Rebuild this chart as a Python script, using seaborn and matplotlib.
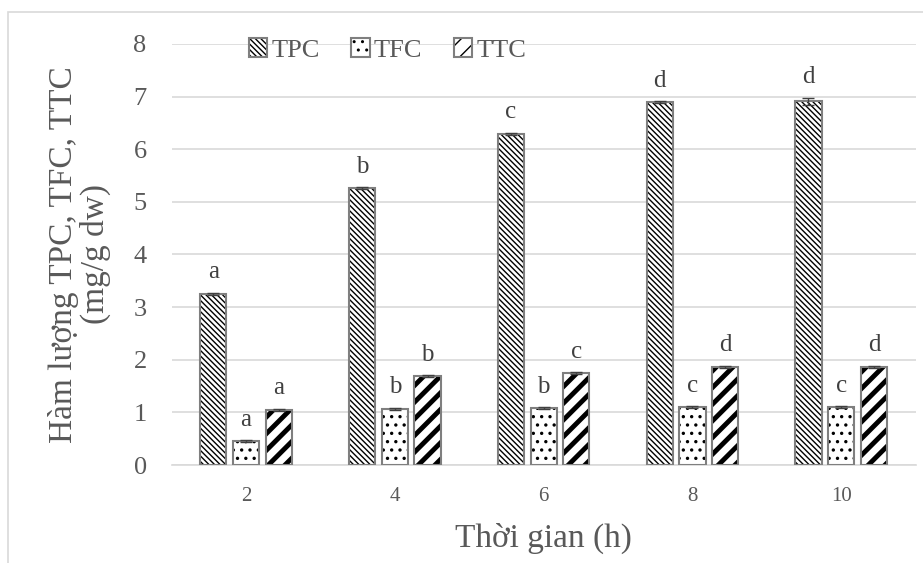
import numpy as np
import pandas as pd
import matplotlib
matplotlib.use("Agg")
import matplotlib.pyplot as plt
import seaborn as sns
from matplotlib.patches import Patch, Rectangle
from matplotlib.legend_handler import HandlerTuple

times = ["2", "4", "6", "8", "10"]
series = ["TPC", "TFC", "TTC"]
tpc = [3.25, 5.26, 6.29, 6.89, 6.91]
tfc = [0.45, 1.07, 1.08, 1.10, 1.10]
ttc = [1.05, 1.69, 1.74, 1.87, 1.87]
tpc_err = [0.02, 0.02, 0.02, 0.02, 0.07]
tfc_err = [0.02, 0.02, 0.02, 0.02, 0.02]
ttc_err = [0.02, 0.02, 0.02, 0.02, 0.02]
tpc_lab = ["a", "b", "c", "d", "d"]
tfc_lab = ["a", "b", "b", "c", "c"]
ttc_lab = ["a", "b", "c", "d", "d"]

values = [tpc, tfc, ttc]
errors = [tpc_err, tfc_err, ttc_err]
labels = [tpc_lab, tfc_lab, ttc_lab]

df = pd.DataFrame({
    "time": times * 3,
    "series": [s for s in series for _ in times],
    "value": tpc + tfc + ttc,
})

sns.set_theme(style="white")
plt.rcParams["font.family"] = ["Liberation Serif", "DejaVu Serif"]
plt.rcParams["hatch.color"] = "black"

TXT = "#595959"
GRID = "#d9d9d9"
EDGE = "#7f7f7f"

fig = plt.figure(figsize=(9.23, 5.63), dpi=100)
ax = fig.add_axes([0.186, 0.174, 0.806, 0.748])

sns.barplot(data=df, x="time", y="value", hue="series", order=times,
            hue_order=series, width=0.66, gap=0.2, errorbar=None,
            palette=["white", "white", "white"], legend=False, ax=ax,
            edgecolor="black", linewidth=0)

hatches = ["\\\\\\\\\\\\", "..", "//"]
hlw = [1.0, 1.2, 3.5]
bar_conts = list(ax.containers)
for i, cont in enumerate(bar_conts):
    for p in cont.patches:
        p.set_hatch(hatches[i])
        try:
            p.set_hatch_linewidth(hlw[i])
        except Exception:
            pass
        p.set_edgecolor("black")
        p.set_linewidth(0)
        p.set_zorder(3)
        ax.add_patch(Rectangle((p.get_x(), p.get_y()), p.get_width(), p.get_height(),
                               fill=False, edgecolor=EDGE, linewidth=1.5, zorder=3.5))
    xs = [p.get_x() + p.get_width() / 2 for p in cont.patches]
    ax.errorbar(xs, values[i], yerr=errors[i], fmt="none", ecolor="#404040",
                elinewidth=1, capsize=4, capthick=1, zorder=4)
    for x, v, e, lab in zip(xs, values[i], errors[i], labels[i]):
        ax.text(x, v + e + 0.18, lab, ha="center", va="bottom",
                fontsize=18, color="#404040")

ax.set_ylim(0, 8)
ax.set_xlim(-0.5, 4.5)
ax.set_yticks(range(0, 9))
ax.yaxis.grid(True, color=GRID, linewidth=1.2, zorder=0)
ax.set_axisbelow(True)
for s in ["top", "right", "left"]:
    ax.spines[s].set_visible(False)
ax.spines["bottom"].set_color(GRID)
ax.spines["bottom"].set_linewidth(1.2)
ax.tick_params(axis="y", labelsize=19, colors=TXT, length=0, pad=18)
ax.tick_params(axis="x", which="major", labelsize=15, colors=TXT, length=0, pad=16)
ax.set_xticks(np.arange(-0.5, 5.0, 1.0), minor=True)
ax.tick_params(axis="x", which="minor", length=9, width=1.2, color=GRID)

ax.set_xlabel("Thời gian (h)", fontsize=24, color=TXT, labelpad=12)
ax.set_ylabel("Hàm lượng TPC, TFC, TTC\n(mg/g dw)", fontsize=24, color=TXT,
              labelpad=16, linespacing=1.05)

handles = []
for i, s in enumerate(series):
    hp = Patch(facecolor="white", edgecolor="black", hatch=hatches[i], linewidth=0)
    try:
        hp.set_hatch_linewidth(1.5)
    except Exception:
        pass
    ho = Patch(facecolor="none", edgecolor=EDGE, linewidth=1.5)
    handles.append((hp, ho))
leg = ax.legend(handles=handles, labels=series, loc="center",
                bbox_to_anchor=(0.29, 0.985),
                handler_map={tuple: HandlerTuple(ndivide=1, pad=0)},
                ncol=3, frameon=False, fontsize=19, handlelength=0.7,
                handleheight=0.7, handletextpad=0.15, columnspacing=1.2,
                borderaxespad=0)
for t in leg.get_texts():
    t.set_color(TXT)

fig.patches.append(Rectangle((8 / 923, -0.05), 1.1, (563 - 12) / 563 + 0.05,
                             transform=fig.transFigure, fill=False,
                             edgecolor=GRID, linewidth=1.2))

fig.savefig("out.png", dpi=100)
